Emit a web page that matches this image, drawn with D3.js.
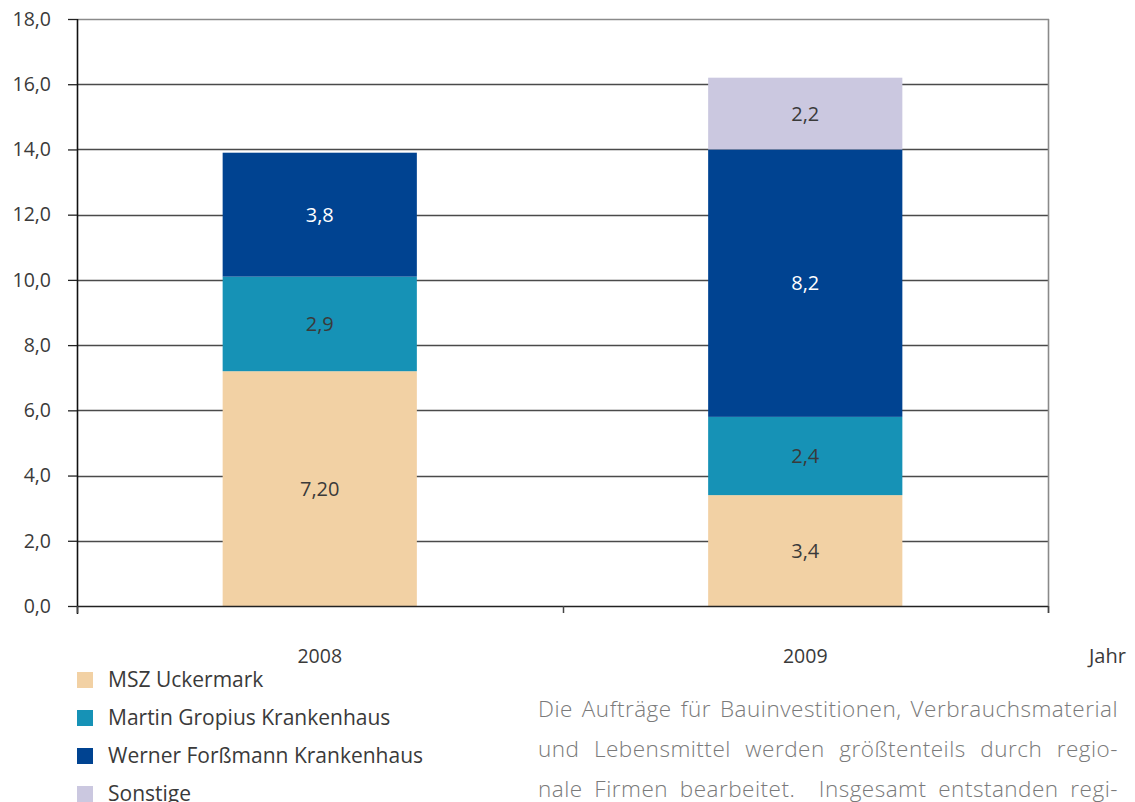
<!DOCTYPE html>
<html>
<head>
<meta charset="utf-8">
<script src="https://cdn.jsdelivr.net/npm/d3@7"></script>
<style>
  body { margin: 0; background: #fff; }
  svg { display: block; font-family: "Open Sans", "Noto Sans", sans-serif; }
</style>
</head>
<body>
<svg id="svg" width="1135" height="802"></svg>
<script>
var years = ['2008', '2009'];
var seriesNames = ['MSZ Uckermark', 'Martin Gropius Krankenhaus', 'Werner Forßmann Krankenhaus', 'Sonstige'];
var mszValues = [7.2, 3.4];
var gropiusValues = [2.9, 2.4];
var forssmannValues = [3.8, 8.2];
var sonstigeValues = [0, 2.2];
var valueLabels = [['7,20', '3,4'], ['2,9', '2,4'], ['3,8', '8,2'], ['', '2,2']];
var yTicks = [0, 2, 4, 6, 8, 10, 12, 14, 16, 18];
var colors = ['#f2d1a4', '#1692b6', '#004391', '#cbc8e0'];
var paragraph = [
  'Die Aufträge für Bauinvestitionen, Verbrauchsmaterial',
  'und Lebensmittel werden größtenteils durch regio-',
  'nale Firmen bearbeitet.  Insgesamt entstanden regi-'
];

var svg = d3.select('svg');
var plotLeft = 77, plotRight = 1048, plotTop = 19, plotBottom = 606;

var x = d3.scaleBand()
    .domain(years)
    .range([plotLeft, plotRight])
    .paddingInner(0.6)
    .paddingOuter(0.3);

var y = d3.scaleLinear()
    .domain([0, 18])
    .range([plotBottom, plotTop]);

var table = years.map(function (yr, i) {
  return { year: yr, s0: mszValues[i], s1: gropiusValues[i], s2: forssmannValues[i], s3: sonstigeValues[i] };
});
var layers = d3.stack().keys(['s0', 's1', 's2', 's3'])(table);

// gridlines
svg.append('g')
  .selectAll('line')
  .data(yTicks.slice(1, -1))
  .enter()
  .append('line')
  .attr('x1', plotLeft).attr('x2', plotRight)
  .attr('y1', function (d) { return Math.round(y(d)) + 0.5; })
  .attr('y2', function (d) { return Math.round(y(d)) + 0.5; })
  .attr('stroke', '#4a4a4a')
  .attr('stroke-width', 1.3);

// frame top and right
svg.append('line')
  .attr('x1', plotLeft).attr('x2', plotRight + 1)
  .attr('y1', plotTop + 0.5).attr('y2', plotTop + 0.5)
  .attr('stroke', '#8a8a8a').attr('stroke-width', 1.6);
svg.append('line')
  .attr('x1', plotRight + 0.5).attr('x2', plotRight + 0.5)
  .attr('y1', plotTop).attr('y2', plotBottom + 7)
  .attr('stroke', '#8a8a8a').attr('stroke-width', 1.6);

// bars
layers.forEach(function (layer, k) {
  svg.append('g')
    .selectAll('rect')
    .data(layer)
    .enter()
    .append('rect')
    .attr('x', function (d) { return x(d.data.year); })
    .attr('width', x.bandwidth())
    .attr('y', function (d) { return y(d[1]); })
    .attr('height', function (d) { return y(d[0]) - y(d[1]); })
    .attr('fill', colors[k]);

  svg.append('g')
    .selectAll('text')
    .data(layer)
    .enter()
    .append('text')
    .attr('x', function (d) { return x(d.data.year) + x.bandwidth() / 2; })
    .attr('y', function (d) { return (y(d[0]) + y(d[1])) / 2; })
    .attr('dy', '0.35em')
    .attr('text-anchor', 'middle')
    .attr('font-size', 20)
    .attr('fill', k === 2 ? '#ffffff' : '#3a3a3a')
    .text(function (d, i) { return valueLabels[k][i]; });
});

// y axis
var yAxis = svg.append('g')
  .attr('transform', 'translate(' + plotLeft + ',0)')
  .call(d3.axisLeft(y).tickValues(yTicks).tickSize(9).tickPadding(17)
    .tickFormat(function (d) { return d3.format('.1f')(d).replace('.', ','); }));
yAxis.select('.domain').attr('stroke', '#111').attr('stroke-width', 1.6)
  .attr('d', 'M0.5,' + plotTop + 'V' + (plotBottom + 8));
yAxis.selectAll('.tick line').attr('stroke', '#222').attr('stroke-width', 1.3);
yAxis.selectAll('.tick text').attr('font-size', 19.5).attr('fill', '#3a3a3a')
  .attr('font-family', '"Open Sans", sans-serif');

// x axis
svg.append('line')
  .attr('x1', plotLeft).attr('x2', plotRight)
  .attr('y1', plotBottom + 0.5).attr('y2', plotBottom + 0.5)
  .attr('stroke', '#222').attr('stroke-width', 1.6);
var xTicks = [plotLeft, (plotLeft + plotRight) / 2, plotRight];
svg.append('g')
  .selectAll('line')
  .data(xTicks)
  .enter()
  .append('line')
  .attr('x1', function (d) { return Math.round(d) + 0.5; })
  .attr('x2', function (d) { return Math.round(d) + 0.5; })
  .attr('y1', plotBottom).attr('y2', plotBottom + 7)
  .attr('stroke', '#444').attr('stroke-width', 1.5);

svg.append('g')
  .selectAll('text')
  .data(years)
  .enter()
  .append('text')
  .attr('x', function (d) { return x(d) + x.bandwidth() / 2; })
  .attr('y', 663)
  .attr('text-anchor', 'middle')
  .attr('font-size', 19.5)
  .attr('fill', '#3a3a3a')
  .text(function (d) { return d; });

svg.append('text')
  .attr('x', 1089)
  .attr('y', 663)
  .attr('font-size', 20)
  .attr('fill', '#3a3a3a')
  .text('Jahr');

// legend
var legend = svg.append('g')
  .selectAll('g')
  .data(seriesNames)
  .enter()
  .append('g')
  .attr('transform', function (d, i) { return 'translate(77,' + (680 + i * 38) + ')'; });
legend.append('rect')
  .attr('x', 0).attr('y', -8)
  .attr('width', 16).attr('height', 16)
  .attr('fill', function (d, i) { return colors[i]; });
legend.append('text')
  .attr('x', 31)
  .attr('y', 0)
  .attr('dy', '0.35em')
  .attr('font-size', 21)
  .attr('fill', '#3a3a3a')
  .text(function (d) { return d; });

// paragraph, justified by word spacing
var lineWidth = 580;
svg.append('g')
  .selectAll('text')
  .data(paragraph)
  .enter()
  .append('text')
  .attr('x', 538)
  .attr('y', function (d, i) { return 717 + i * 40; })
  .attr('font-size', 22.5)
  .attr('font-weight', 300)
  .attr('fill', '#7a7a7a')
  .style('white-space', 'pre')
  .style('letter-spacing', '0.5px')
  .text(function (d) { return d; })
  .each(function (d) {
    var w = this.getComputedTextLength();
    var gaps = d.split(' ').length - 1;
    if (w > lineWidth) {
      d3.select(this).attr('textLength', lineWidth).attr('lengthAdjust', 'spacingAndGlyphs');
    } else if (gaps > 0) {
      d3.select(this).style('word-spacing', ((lineWidth - w) / gaps) + 'px');
    }
  });
</script>
</body>
</html>
